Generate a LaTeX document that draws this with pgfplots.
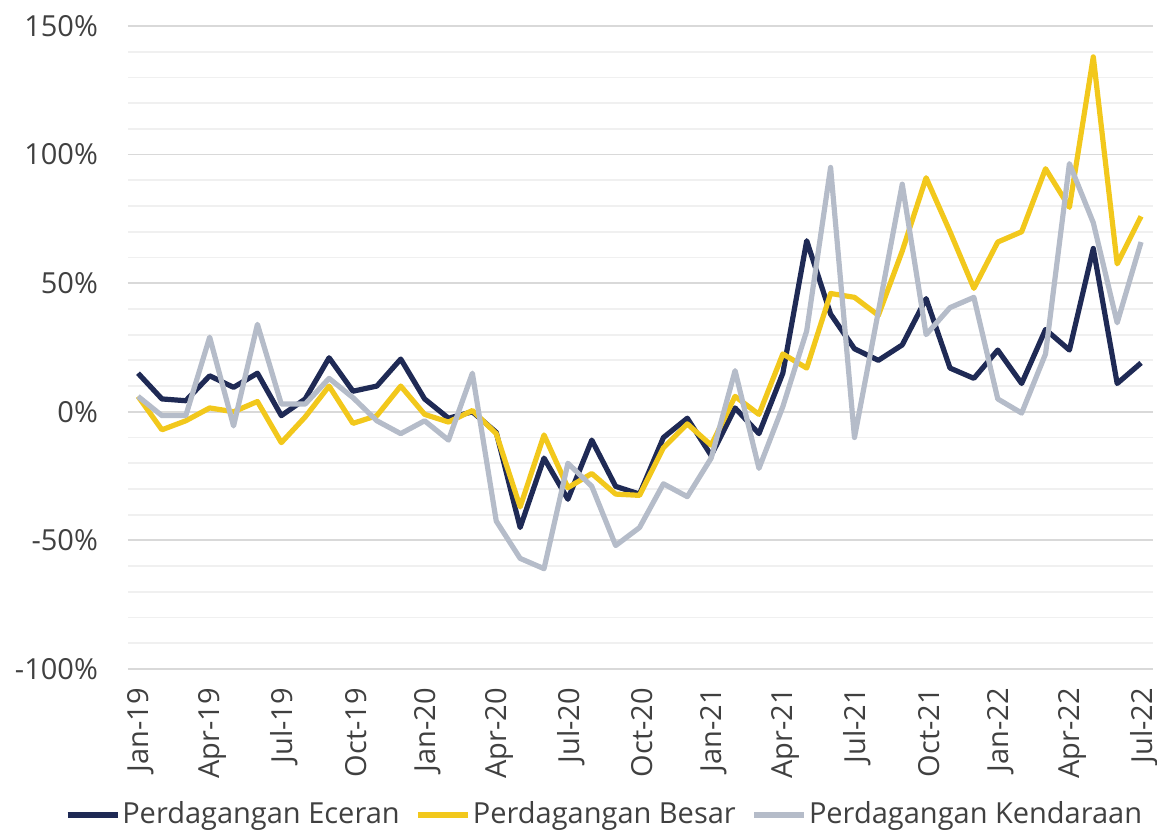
\documentclass[border=0pt]{standalone}
\usepackage{fontspec}
\setmainfont{Open Sans}
\usepackage{pgfplots}
\usepackage{pgfplotstable}
\pgfplotsset{compat=1.18}
\definecolor{navy}{HTML}{1F2A55}
\definecolor{gold}{HTML}{F2C81C}
\definecolor{steel}{HTML}{B5BCC9}
\definecolor{ticktext}{HTML}{404040}
\pgfplotstableread{
i eceran besar kendaraan
0 15 6 6
1 5 -7 -1.5
2 4.3 -3.5 -1.5
3 14 1.5 29
4 9.5 0 -5.5
5 15 4 34
6 -1.5 -12 3
7 5 -2 3
8 21 10 13
9 8 -4.5 5.5
10 10 -1.5 -3.5
11 20.5 10 -8.5
12 5 -1 -3.5
13 -2.5 -4 -11
14 0 0.5 15
15 -8 -8.5 -42.5
16 -45 -37 -57
17 -18 -9 -61
18 -34 -29.5 -20
19 -11 -24 -29
20 -29 -32 -52
21 -32 -32.5 -45
22 -10 -14 -28
23 -2.5 -4.7 -33
24 -17 -13 -18
25 1.5 6 16
26 -8.5 -1 -22
27 15 22.5 2
28 66.5 17 31.5
29 38 46 95
30 24.5 44.5 -10
31 20 37.5 39
32 26 62.5 88.5
33 44 91 30
34 17 70 40.5
35 13 48 44.5
36 24 66 5
37 11 70 -0.5
38 32 94.5 22.5
39 24 79.5 96.5
40 63.5 138 73.5
41 11 57.5 34.6
42 19 76 66
}\data
\begin{document}
\fontsize{14.5}{17}\selectfont
\begin{tikzpicture}
\useasboundingbox (0,0) rectangle (578.5pt,419.5pt);
\begin{axis}[
  at={(64pt,85pt)}, anchor=south west,
  scale only axis, width=512.5pt, height=321.5pt,
  xmin=-0.42, xmax=42.5, ymin=-100, ymax=150,
  axis line style={draw=none},
  major tick length=0pt, minor tick length=0pt,
  ytick={-100,-50,0,50,100,150},
  minor y tick num=4,
  ymajorgrids, yminorgrids,
  major grid style={draw=black!15, line width=0.9pt},
  minor grid style={draw=black!6, line width=0.9pt},
  extra y ticks={0}, extra y tick labels={},
  extra y tick style={grid style={draw=black!80, line width=0.9pt}},
  yticklabel={\pgfmathprintnumber{\tick}\%},
  /pgf/number format/assume math mode=true,
  yticklabel style={text=ticktext, xshift=-10pt},
  xtick={0,3,...,42},
  xticklabels={Jan-19,Apr-19,Jul-19,Oct-19,Jan-20,Apr-20,Jul-20,Oct-20,Jan-21,Apr-21,Jul-21,Oct-21,Jan-22,Apr-22,Jul-22},
  xticklabel style={rotate=90, anchor=east, text=ticktext, xshift=-4.5pt, yshift=-1.5pt},
  tick label style={font=\fontsize{14.5}{17}\selectfont},
  legend columns=3,
  legend style={draw=none, fill=none, anchor=center, at={(axis description cs:0.465,-0.227)},
    font=\fontsize{14.5}{17}\selectfont, text=ticktext,
    /tikz/every even column/.append style={column sep=7pt},
    nodes={inner xsep=1pt}},
  legend image code/.code={\draw[#1] (0pt,0pt) -- (25pt,0pt);},
  every axis plot/.append style={line width=2.6pt, line join=round, no markers},
]
\addplot[navy] table[x=i, y=eceran] {\data};
\addlegendentry{Perdagangan Eceran}
\addplot[gold] table[x=i, y=besar] {\data};
\addlegendentry{Perdagangan Besar}
\addplot[steel] table[x=i, y=kendaraan] {\data};
\addlegendentry{Perdagangan Kendaraan}
\end{axis}
\end{tikzpicture}
\end{document}
